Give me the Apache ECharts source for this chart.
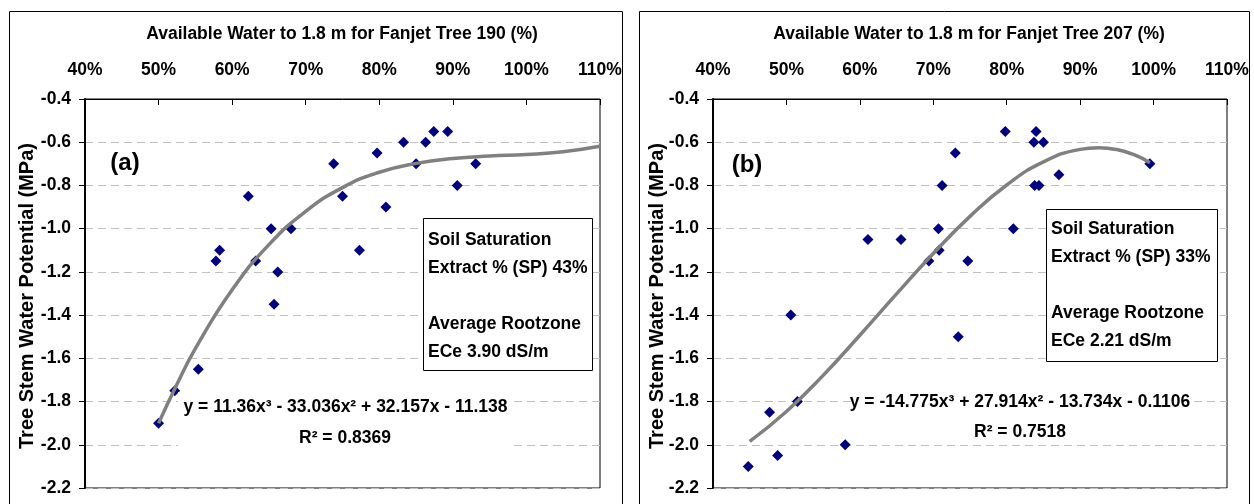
<!DOCTYPE html>
<html><head><meta charset="utf-8">
<script src="https://cdn.jsdelivr.net/npm/echarts@6/dist/echarts.min.js"></script>
<style>html,body{margin:0;padding:0;background:#fff}#c{width:1254px;height:504px}</style>
</head><body><div id="c"></div><script>
// ---- Data ----
// Panel (a): Fanjet Tree 190
const treeA_water = [50.0, 52.2, 55.4, 57.8, 58.3, 62.2, 63.2, 65.3, 65.7, 66.2, 68.0, 73.8, 75.0, 77.3, 79.7, 80.9, 83.3, 85.0, 86.3, 87.4, 89.3, 90.6, 93.1];
const treeA_swp   = [-1.90, -1.75, -1.65, -1.15, -1.10, -0.85, -1.15, -1.00, -1.35, -1.20, -1.00, -0.70, -0.85, -1.10, -0.65, -0.90, -0.60, -0.70, -0.60, -0.55, -0.55, -0.80, -0.70];
// trend line of panel (a)
const trendA_water = [50, 52.5, 55, 60, 65, 70, 75, 80, 85, 90, 95, 100, 105, 110];
const trendA_swp   = [-1.90, -1.72, -1.555, -1.283, -1.074, -0.920, -0.810, -0.739, -0.698, -0.675, -0.664, -0.657, -0.644, -0.619];

// Panel (b): Fanjet Tree 207
const treeB_water = [44.8, 47.7, 48.8, 50.6, 51.5, 58.0, 61.1, 65.6, 69.4, 70.7, 70.8, 71.2, 73.0, 73.4, 74.7, 79.8, 80.9, 83.7, 83.8, 84.0, 84.4, 85.0, 87.1, 99.5];
const treeB_swp   = [-2.10, -1.85, -2.05, -1.40, -1.80, -2.00, -1.05, -1.05, -1.15, -1.00, -1.10, -0.80, -0.65, -1.50, -1.15, -0.55, -1.00, -0.60, -0.80, -0.55, -0.80, -0.60, -0.75, -0.70];
const trendB_water = [45, 50, 55, 60, 65, 70, 75, 80, 85, 90, 92.5, 95, 97.5, 99.5];
const trendB_swp   = [-1.984, -1.846, -1.679, -1.493, -1.302, -1.115, -0.943, -0.798, -0.691, -0.633, -0.625, -0.634, -0.660, -0.695];

// Text
const titleA = 'Available Water to 1.8 m for Fanjet Tree 190 (%)';
const titleB = 'Available Water to 1.8 m for Fanjet Tree 207 (%)';
const yTitle = 'Tree Stem Water Potential (MPa)';
const boxA = 'Soil Saturation\nExtract % (SP) 43%\n\nAverage Rootzone\nECe 3.90 dS/m';
const boxB = 'Soil Saturation\nExtract % (SP) 33%\n\nAverage Rootzone\nECe 2.21 dS/m';
const eqA = 'y = 11.36x³ - 33.036x² + 32.157x - 11.138';
const r2A = 'R² = 0.8369';
const eqB = 'y = -14.775x³ + 27.914x² - 13.734x - 0.1106';
const r2B = 'R² = 0.7518';

// Axis ranges
const xMin = 40, xMax = 110, xStep = 10;
const yMin = -2.2, yMax = -0.4, yStep = 0.2;

const FONT = '"Liberation Sans", Arial, sans-serif';
const zip = (a, b) => a.map((v, i) => [v, b[i]]);

function xAxis(gi) {
  return {
    type: 'value', gridIndex: gi, position: 'top', min: xMin, max: xMax, interval: xStep,
    axisLine: { show: true, lineStyle: { color: '#000', width: 1 } },
    axisTick: { show: true, inside: true, length: 6, lineStyle: { color: '#000', width: 1 } },
    axisLabel: { formatter: v => v + '%', fontFamily: FONT, fontWeight: 'bold', fontSize: 17.5, color: '#000', margin: 20 },
    splitLine: { show: false }
  };
}
function yAxis(gi) {
  return {
    type: 'value', gridIndex: gi, min: yMin, max: yMax, interval: yStep,
    axisLine: { show: true, lineStyle: { color: '#000', width: 2 } },
    axisTick: { show: true, inside: false, length: 6, lineStyle: { color: '#000', width: 1 } },
    axisLabel: { formatter: v => v.toFixed(1), fontFamily: FONT, fontWeight: 'bold', fontSize: 17.5, color: '#000', margin: 14 },
    splitLine: { show: true, lineStyle: { color: '#c0c0c0', width: 1, type: [8, 5] } }
  };
}
function txt(x, y, text, size, opts) {
  return Object.assign({
    type: 'text', x: x, y: y, z: 20,
    style: Object.assign({ text: text, fontFamily: FONT, fontWeight: 'bold', fontSize: size, fill: '#000', align: 'center', verticalAlign: 'middle' }, (opts && opts.style) || {})
  }, (opts && opts.el) || {});
}
function rect(x, y, w, h, fill, stroke) {
  return { type: 'rect', z: 15, shape: { x: x, y: y, width: w, height: h }, style: { fill: fill, stroke: stroke, lineWidth: 1 } };
}

const chart = echarts.init(document.getElementById('c'), null, { renderer: 'canvas' });
chart.setOption({
  backgroundColor: '#fff',
  animation: false,
  grid: [
    { left: 85, top: 99, width: 515, height: 389, show: true, borderColor: '#000', borderWidth: 1, backgroundColor: 'transparent' },
    { left: 713, top: 99, width: 514, height: 389, show: true, borderColor: '#000', borderWidth: 1, backgroundColor: 'transparent' }
  ],
  xAxis: [xAxis(0), xAxis(1)],
  yAxis: [yAxis(0), yAxis(1)],
  series: [
    { type: 'scatter', xAxisIndex: 0, yAxisIndex: 0, data: zip(treeA_water, treeA_swp), symbol: 'diamond', symbolSize: 11, itemStyle: { color: '#000080', opacity: 1 }, z: 2 },
    { type: 'line', xAxisIndex: 0, yAxisIndex: 0, data: zip(trendA_water, trendA_swp), smooth: true, showSymbol: false, lineStyle: { color: '#808080', width: 3.5 }, z: 3 },
    { type: 'scatter', xAxisIndex: 1, yAxisIndex: 1, data: zip(treeB_water, treeB_swp), symbol: 'diamond', symbolSize: 11, itemStyle: { color: '#000080', opacity: 1 }, z: 2 },
    { type: 'line', xAxisIndex: 1, yAxisIndex: 1, data: zip(trendB_water, trendB_swp), smooth: true, showSymbol: false, lineStyle: { color: '#808080', width: 3.5 }, z: 3 }
  ],
  graphic: [
    // outer panel frames
    { type: 'rect', z: 1, shape: { x: 9.5, y: 11.5, width: 613, height: 510 }, style: { fill: 'none', stroke: '#000', lineWidth: 1 } },
    { type: 'rect', z: 1, shape: { x: 639.5, y: 11.5, width: 610, height: 510 }, style: { fill: 'none', stroke: '#000', lineWidth: 1 } },
    // axis titles
    txt(342, 34, titleA, 17.5),
    txt(969, 34, titleB, 17.5),
    txt(27, 296, yTitle, 20, { el: { rotation: Math.PI / 2 } }),
    txt(657, 296, yTitle, 20, { el: { rotation: Math.PI / 2 } }),
    // panel labels
    txt(125, 163, '(a)', 24),
    txt(747, 165, '(b)', 24),
    // info boxes
    rect(423.5, 218.5, 169, 152, '#fff', '#000'),
    txt(428, 226, boxA, 17.5, { style: { align: 'left', verticalAlign: 'top', lineHeight: 28 } }),
    rect(1046.5, 209.5, 171, 152, '#fff', '#000'),
    txt(1051, 215, boxB, 17.5, { style: { align: 'left', verticalAlign: 'top', lineHeight: 28 } }),
    // trendline labels
    rect(178, 392, 334, 60, '#fff', null),
    txt(345.5, 407, eqA, 17.5),
    txt(345, 438, r2A, 17.5),
    rect(852, 390, 338, 53, '#fff', null),
    txt(1020, 402, eqB, 17.5),
    txt(1020, 432, r2B, 17.5)
  ]
});
</script></body></html>
